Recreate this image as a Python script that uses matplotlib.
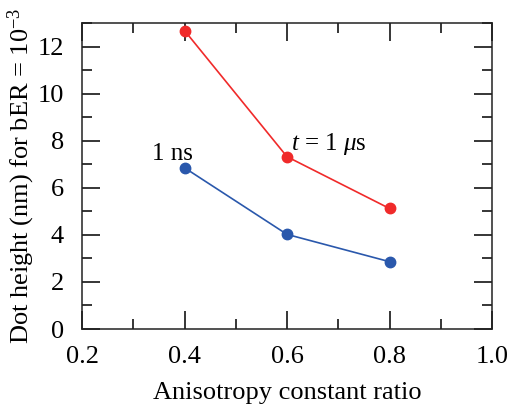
import matplotlib
matplotlib.use('Agg')
import matplotlib.pyplot as plt
from matplotlib.ticker import MultipleLocator

plt.rcParams['font.family'] = ['Liberation Serif', 'DejaVu Serif']
plt.rcParams['mathtext.fontset'] = 'custom'
plt.rcParams['mathtext.rm'] = 'Liberation Serif'
plt.rcParams['mathtext.it'] = 'Liberation Serif:italic'

# Data
ratio = [0.4, 0.6, 0.8]
height_1us = [12.68, 7.32, 5.12]
height_1ns = [6.85, 4.02, 2.86]

fig = plt.figure(figsize=(5.09, 4.05), dpi=100)
ax = fig.add_axes([82 / 509, 1 - 329 / 405, 410 / 509, 306 / 405])

ax.plot(ratio, height_1us, color='#f02a2a', lw=1.2, marker='o', ms=7.5)
ax.plot(ratio, height_1ns, color='#2a58ac', lw=1.2, marker='o', ms=7.5)

ax.text(0.376, 7.2, '1 ns', fontsize=18, ha='center', va='baseline')
ax.text(0.607, 7.62, r'$t$ = 1 $\mu$s', fontsize=18, ha='left', va='baseline')

ax.set_xlim(0.2, 1.0)
ax.set_ylim(0, 13)
ax.xaxis.set_major_locator(MultipleLocator(0.2))
ax.xaxis.set_minor_locator(MultipleLocator(0.1))
ax.yaxis.set_major_locator(MultipleLocator(2))
ax.yaxis.set_minor_locator(MultipleLocator(1))
ax.tick_params(which='both', direction='in', top=True, right=True,
               labelsize=19, width=1.1)
ax.tick_params(which='major', length=13)
ax.tick_params(which='minor', length=7)
ax.tick_params(axis='x', which='major', pad=12)
ax.tick_params(axis='y', which='major', pad=13)
ax.xaxis.set_major_formatter(plt.FuncFormatter(lambda v, p: f'{v:.1f}'))
for s in ax.spines.values():
    s.set_linewidth(1.1)
    s.set_color('#222222')

ax.set_xlabel('Anisotropy constant ratio', fontsize=19)
ax.xaxis.set_label_coords(0.5, -0.172)
ax.set_ylabel(r'Dot height (nm) for bER = 10$^{-3}$', fontsize=19)
ax.yaxis.set_label_coords(-0.109, 0.5)

fig.savefig('out.png', dpi=100)
